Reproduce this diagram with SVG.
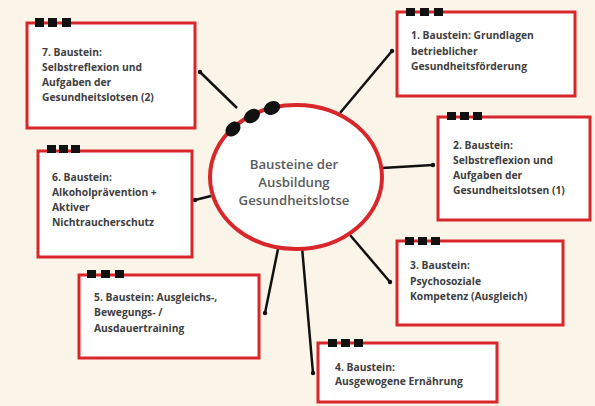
<svg xmlns="http://www.w3.org/2000/svg" width="595" height="406" viewBox="0 0 595 406">
<style>
.box{fill:#ffffff;stroke:#d8262b;stroke-width:3}
.sq{fill:#111111}
.t{font-family:"Open Sans","DejaVu Sans",sans-serif;font-weight:700;font-size:10.3px;fill:#404040}
.c{font-family:"Open Sans","DejaVu Sans",sans-serif;font-weight:600;font-size:13.2px;fill:#5a5a5a;text-anchor:middle}
.ln{stroke:#111111;stroke-width:2.5;fill:none}
.dot{fill:#111111}
</style>
<rect width="595" height="406" fill="#faf5e8"/>
<g id="connectors">
<line class="ln" x1="200" y1="72" x2="237" y2="108"/><circle class="dot" cx="200" cy="72" r="2.2"/>
<line class="ln" x1="392" y1="51" x2="340" y2="113"/><circle class="dot" cx="392" cy="51" r="2.2"/>
<line class="ln" x1="382" y1="168" x2="433" y2="165"/><circle class="dot" cx="433" cy="165" r="2.2"/>
<line class="ln" x1="350" y1="235" x2="390" y2="282"/><circle class="dot" cx="390" cy="282" r="2.2"/>
<line class="ln" x1="302" y1="247" x2="313" y2="373"/><circle class="dot" cx="313" cy="373" r="2.2"/>
<line class="ln" x1="278" y1="249" x2="265" y2="313"/><circle class="dot" cx="265" cy="313" r="2.2"/>
<line class="ln" x1="195" y1="200" x2="211" y2="196"/><circle class="dot" cx="195" cy="200" r="2.2"/>
</g>
<g id="center">
<ellipse cx="296" cy="177" rx="86" ry="72" fill="#ffffff" stroke="#d8262b" stroke-width="4"/>
<ellipse cx="272" cy="108" rx="8.5" ry="6.5" transform="rotate(-25 272 108)" fill="#111"/>
<ellipse cx="252" cy="116" rx="8.5" ry="6.5" transform="rotate(-35 252 116)" fill="#111"/>
<ellipse cx="233" cy="129" rx="8.5" ry="6.5" transform="rotate(-45 233 129)" fill="#111"/>
<text class="c" x="294" y="169">Bausteine der</text>
<text class="c" x="294" y="187">Ausbildung</text>
<text class="c" x="294" y="205">Gesundheitslotse</text>
</g>
<g id="b1">
<rect class="box" x="397" y="12" width="178" height="84"/>
<rect class="sq" x="406" y="8" width="9" height="8"/><rect class="sq" x="420" y="8" width="9" height="8"/><rect class="sq" x="434" y="8" width="9" height="8"/>
<text class="t" x="411" y="39">1. Baustein: Grundlagen</text>
<text class="t" x="411" y="55">betrieblicher</text>
<text class="t" x="411" y="70">Gesundheitsförderung</text>
</g>
<g id="b2">
<rect class="box" x="438" y="117" width="152" height="103"/>
<rect class="sq" x="447" y="112" width="9" height="8"/><rect class="sq" x="460" y="112" width="9" height="8"/><rect class="sq" x="473" y="112" width="9" height="8"/>
<text class="t" x="453" y="149">2. Baustein:</text>
<text class="t" x="453" y="164">Selbstreflexion und</text>
<text class="t" x="453" y="179">Aufgaben der</text>
<text class="t" x="453" y="194">Gesundheitslotsen (1)</text>
</g>
<g id="b3">
<rect class="box" x="397" y="241" width="166" height="84"/>
<rect class="sq" x="405" y="237" width="9" height="8"/><rect class="sq" x="418" y="237" width="9" height="8"/><rect class="sq" x="431" y="237" width="9" height="8"/>
<text class="t" x="410" y="269">3. Baustein:</text>
<text class="t" x="410" y="285">Psychosoziale</text>
<text class="t" x="410" y="300">Kompetenz (Ausgleich)</text>
</g>
<g id="b4">
<rect class="box" x="318" y="343" width="179" height="59"/>
<rect class="sq" x="328" y="339" width="9" height="8"/><rect class="sq" x="341" y="339" width="9" height="8"/><rect class="sq" x="354" y="339" width="9" height="8"/>
<text class="t" x="335" y="371">4. Baustein:</text>
<text class="t" x="335" y="385">Ausgewogene Ernährung</text>
</g>
<g id="b5">
<rect class="box" x="79" y="275" width="180" height="83"/>
<rect class="sq" x="87" y="270" width="9" height="8"/><rect class="sq" x="101" y="270" width="9" height="8"/><rect class="sq" x="115" y="270" width="9" height="8"/>
<text class="t" x="94" y="301">5. Baustein: Ausgleichs-,</text>
<text class="t" x="94" y="316">Bewegungs- /</text>
<text class="t" x="94" y="332">Ausdauertraining</text>
</g>
<g id="b6">
<rect class="box" x="38" y="151" width="154" height="106"/>
<rect class="sq" x="47" y="145" width="9" height="8"/><rect class="sq" x="59" y="145" width="9" height="8"/><rect class="sq" x="71" y="145" width="9" height="8"/>
<text class="t" x="52" y="181">6. Baustein:</text>
<text class="t" x="52" y="196">Alkoholprävention +</text>
<text class="t" x="52" y="211">Aktiver</text>
<text class="t" x="52" y="226">Nichtraucherschutz</text>
</g>
<g id="b7">
<rect class="box" x="27" y="23" width="168" height="105"/>
<rect class="sq" x="35" y="18" width="9" height="9"/><rect class="sq" x="48" y="18" width="9" height="9"/><rect class="sq" x="62" y="18" width="9" height="9"/>
<text class="t" x="42" y="56">7. Baustein:</text>
<text class="t" x="42" y="71">Selbstreflexion und</text>
<text class="t" x="42" y="86">Aufgaben der</text>
<text class="t" x="42" y="101">Gesundheitslotsen (2)</text>
</g>
</svg>
